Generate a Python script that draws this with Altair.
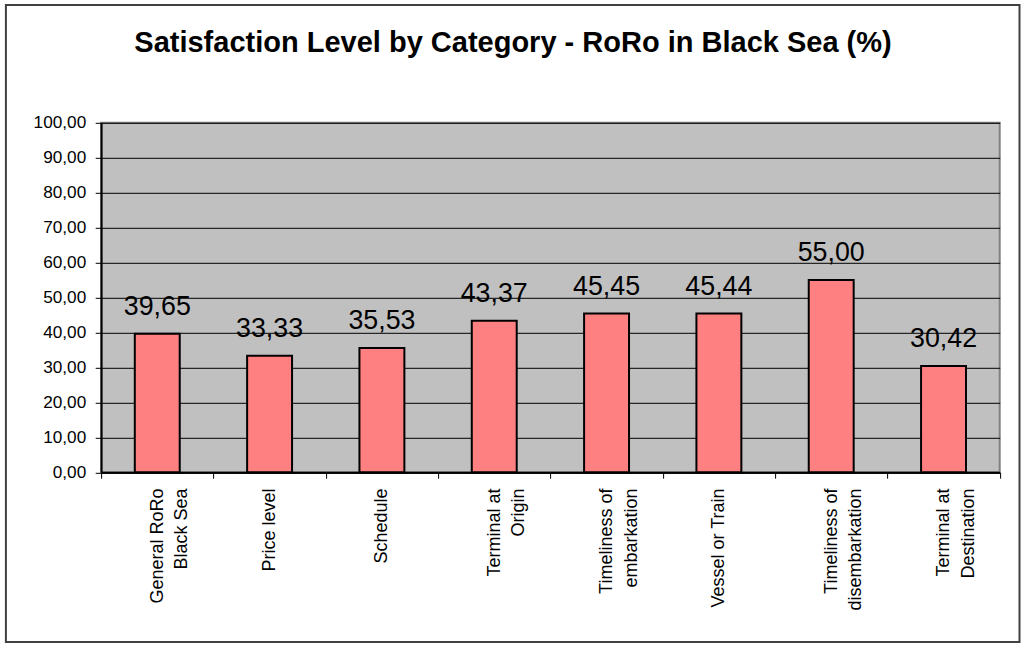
import altair as alt
import pandas as pd

# ---- data ----
categories = [
    "General RoRo\nBlack Sea",
    "Price level",
    "Schedule",
    "Terminal at\nOrigin",
    "Timeliness of\nembarkation",
    "Vessel or Train",
    "Timeliness of\ndisembarkation",
    "Terminal at\nDestination",
]
values = [39.65, 33.33, 35.53, 43.37, 45.45, 45.44, 55.00, 30.42]
y_ticks = [0, 10, 20, 30, 40, 50, 60, 70, 80, 90, 100]
title_text = "Satisfaction Level by Category - RoRo in Black Sea (%)"

df = pd.DataFrame({"category": categories, "value": values})

# ---- layout (pixels in the 1026x648 window) ----
L, T = 101.1, 122.8          # plot area top-left
W, H = 898.6, 349.5          # plot area size
FONT = "Liberation Sans"

x_enc = alt.X(
    "category:N",
    sort=categories,
    scale=alt.Scale(paddingInner=0, paddingOuter=0),
    axis=alt.Axis(
        title=None,
        labelAngle=270,
        labelAlign="right",
        labelBaseline="middle",
        labelFontSize=18,
        labelLineHeight=24.5,
        labelPadding=9.8,
        labelExpr="split(datum.label, '\\n')",
        tickBand="extent",
        tickSize=5.9,
        tickColor="black",
        tickWidth=1,
        domainColor="black",
        domainWidth=2,
        grid=False,
        labelLimit=300,
    ),
)

y_enc = alt.Y(
    "value:Q",
    scale=alt.Scale(domain=[0, 100], nice=False),
    axis=alt.Axis(
        title=None,
        values=y_ticks,
        labelExpr="replace(format(datum.value, '.2f'), '.', ',')",
        grid=True,
        gridColor="black",
        gridWidth=1,
        tickSize=5.9,
        tickColor="black",
        tickWidth=1,
        labelPadding=9.5,
        labelFontSize=17.2,
        domainColor="black",
        domainWidth=2,
    ),
)

base = alt.Chart(df).encode(x=x_enc, y=y_enc)

bars = base.mark_bar(
    width=alt.RelativeBandSize(0.4),
    fill="#FF8080",
    stroke="black",
    strokeWidth=2,
)

labels = base.transform_calculate(
    label="replace(format(datum.value, '.2f'), '.', ',')"
).mark_text(
    baseline="alphabetic",
    align="center",
    dy=-18.7,
    fontSize=26.8,
    font=FONT,
    color="black",
).encode(text="label:N")

frame = alt.Chart(pd.DataFrame({"k": [0]})).mark_rect(
    fillOpacity=0, stroke="#404040", strokeWidth=2
).encode(
    x=alt.value(5.9 - L),
    x2=alt.value(1019.5 - L),
    y=alt.value(4.9 - T),
    y2=alt.value(642.0 - T),
)

title_mark = alt.Chart(pd.DataFrame({"t": [title_text]})).mark_text(
    fontSize=29,
    fontWeight="bold",
    font=FONT,
    baseline="alphabetic",
    align="center",
    color="black",
).encode(text="t:N", x=alt.value(513 - L), y=alt.value(52 - T))

chart = (
    alt.layer(frame, bars, labels, title_mark)
    .properties(
        width=W,
        height=H,
        autosize="none",
        padding={"left": L, "top": T, "right": 1026 - L - W, "bottom": 648 - T - H},
        background="white",
    )
    .configure_view(fill="#C0C0C0", stroke="#808080", strokeWidth=2)
    .configure_axis(labelFont=FONT, labelColor="black")
)

chart.save("out.html", embed_options={"renderer": "svg", "actions": False})
